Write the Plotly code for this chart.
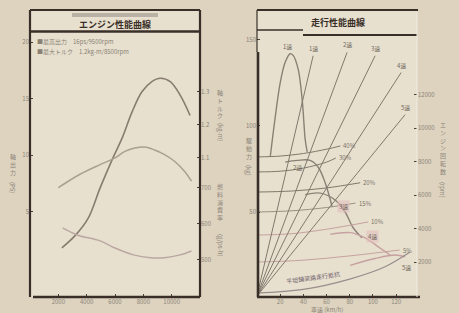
import plotly.graph_objects as go

W, H = 459, 313
def px(x): return x / W
def py(y): return 1 - y / H

# ---------------- Engine performance (left chart) ----------------
rpm_ticks = [2000, 4000, 6000, 8000, 10000]
rpm_ticktext = ["2000", "4000", "6000", "8000", "10000"]
power_ticks = [5, 10, 15, 20]
torque_ticks = [1.1, 1.2, 1.3]
fuel_ticks = [500, 600, 700]

rpm_power = [2250, 3200, 4100, 4950, 5800, 6500, 7200, 7900, 8600, 9200, 9900, 10600, 11300]
power_ps = [1.8, 2.9, 4.4, 7.1, 9.6, 11.5, 13.8, 15.6, 16.5, 16.8, 16.5, 15.3, 13.5]

rpm_torque = [2000, 3500, 4950, 6000, 6700, 7400, 8100, 8800, 9500, 10200, 10900, 11400]
torque_kgm = [1.01, 1.05, 1.08, 1.10, 1.12, 1.13, 1.133, 1.124, 1.11, 1.09, 1.06, 1.03]

rpm_fuel = [2300, 3000, 3500, 4950, 6000, 7300, 8500, 9500, 10600, 11400]
fuel_gpsh = [589, 575, 567, 553, 533, 514, 506, 506, 514, 525]

# ---------------- Running performance (right chart) ----------------
speed_ticks = [20, 40, 60, 80, 100, 120]
force_ticks = [50, 100, 150]
erpm_ticks = [2000, 4000, 6000, 8000, 10000, 12000]
erpm_ticktext = ["2000", "4000", "6000", "8000", "10000", "12000"]

gear_names = ["1速", "2速", "3速", "4速", "5速"]
gear_line_end_kmh = [48.4, 77.7, 101.9, 124.3, 127.8]
gear_line_end_rpm = [14300, 14500, 14300, 13300, 10800]

df1_kmh = [11.4, 15.7, 20.0, 24.3, 28.6, 31.2, 35.5, 39.0, 41.6, 43.3]
df1_kg = [82, 105, 125, 137, 142, 141, 133, 115, 92, 85]
df2_kmh = [24.3, 34.7, 45.9, 52.8, 58.8, 64.8]
df2_kg = [79, 80, 80, 76, 67, 53]
df3_kmh = [41.6, 54.5, 67.4, 76.0, 82.8, 90.5]
df3_kg = [60, 61, 57, 50, 41, 35]
df4_kmh = [63.1, 80.3, 93.2, 106.2, 114.8]
df4_kg = [37, 38, 35, 29, 25]
df5_kmh = [80.3, 101.9, 119.0, 127.8]
df5_kg = [19, 23, 25, 24]

grade_labels = ["40%", "30%", "20%", "15%", "10%", "5%"]
res40_kmh = [0, 20, 40, 60, 72]
res40_kg = [82, 82.5, 84, 86.5, 88.4]
res30_kmh = [0, 20, 40, 60, 68]
res30_kg = [73.3, 73.7, 75.5, 79, 81.4]
res20_kmh = [0, 30, 60, 89]
res20_kg = [61.6, 62.2, 64, 67]
res15_kmh = [0, 30, 60, 85]
res15_kg = [50, 50.7, 52.6, 55.2]
res10_kmh = [0, 30, 60, 96]
res10_kg = [36.6, 37.4, 40, 44.2]
res5_kmh = [0, 40, 80, 123]
res5_kg = [20.9, 22, 24.5, 27.9]
flat_kmh = [0, 40, 80, 110, 132]
flat_kg = [2.9, 5, 11, 18, 26.7]

# ---------------- styles ----------------
FONT = "Noto Sans CJK JP"
DARK = "#3a2f28"
TICKC = "#8d8579"
GREY = "#81786c"
PINK = "#c6a1a0"

fig = go.Figure()

# left chart traces
fig.add_trace(go.Scatter(x=rpm_power, y=power_ps, mode="lines",
                         line=dict(color="#877c6f", width=1.6, shape="spline"),
                         xaxis="x", yaxis="y", hoverinfo="skip"))
fig.add_trace(go.Scatter(x=rpm_torque, y=torque_kgm, mode="lines",
                         line=dict(color="#aa9f90", width=1.5, shape="spline"),
                         xaxis="x", yaxis="y2", hoverinfo="skip"))
fig.add_trace(go.Scatter(x=rpm_fuel, y=fuel_gpsh, mode="lines",
                         line=dict(color="#bba7a2", width=1.5, shape="spline"),
                         xaxis="x", yaxis="y3", hoverinfo="skip"))

# right chart: engine rpm lines per gear
for vend, rend in zip(gear_line_end_kmh, gear_line_end_rpm):
    fig.add_trace(go.Scatter(x=[0, vend], y=[0, rend], mode="lines",
                             line=dict(color=GREY, width=1),
                             xaxis="x2", yaxis="y5", hoverinfo="skip"))

# driving force curves
for xs, ys, col in [(df1_kmh, df1_kg, "#8a8074"), (df2_kmh, df2_kg, "#8a8074"),
                    (df3_kmh, df3_kg, "#8f8378"), (df4_kmh, df4_kg, PINK),
                    (df5_kmh, df5_kg, PINK)]:
    fig.add_trace(go.Scatter(x=xs, y=ys, mode="lines",
                             line=dict(color=col, width=1.4, shape="spline"),
                             xaxis="x2", yaxis="y4", hoverinfo="skip"))

# resistance curves
res_sets = [(res40_kmh, res40_kg), (res30_kmh, res30_kg), (res20_kmh, res20_kg),
            (res15_kmh, res15_kg), (res10_kmh, res10_kg), (res5_kmh, res5_kg)]
res_cols = [GREY, GREY, GREY, "#9c9083", PINK, PINK]
for (xs, ys), col in zip(res_sets, res_cols):
    fig.add_trace(go.Scatter(x=xs, y=ys, mode="lines",
                             line=dict(color=col, width=1, shape="spline"),
                             xaxis="x2", yaxis="y4", hoverinfo="skip"))
fig.add_trace(go.Scatter(x=flat_kmh, y=flat_kg, mode="lines",
                         line=dict(color="#9a8c8c", width=1.2, shape="spline"),
                         xaxis="x2", yaxis="y4", hoverinfo="skip"))

dom_y = [py(297), py(10)]
tickstyle = dict(ticks="inside", ticklen=3, tickwidth=1.3, tickcolor="#4a4038",
                 showgrid=False, zeroline=False, showline=False, fixedrange=True,
                 tickfont=dict(family=FONT, size=6, color=TICKC))

fig.update_layout(
    width=W, height=H, autosize=False, margin=dict(l=0, r=0, t=0, b=0),
    paper_bgcolor="#ddd3bf", plot_bgcolor="#e7e0cf", showlegend=False,
    font=dict(family=FONT, size=6, color=TICKC),
    xaxis=dict(domain=[px(30), px(200)], range=[0, 12000], tickvals=rpm_ticks,
               ticktext=rpm_ticktext, anchor="y", **tickstyle),
    yaxis=dict(domain=dom_y, range=[-2.55, 22.83], tickvals=power_ticks,
               anchor="x", **tickstyle),
    yaxis2=dict(overlaying="y", side="right", anchor="x", range=[0.679, 1.548],
                tickvals=torque_ticks, **tickstyle),
    yaxis3=dict(overlaying="y", side="right", anchor="x", range=[397, 1194.4],
                tickvals=fuel_ticks, **tickstyle),
    xaxis2=dict(domain=[px(257), px(417)], range=[0, 138], tickvals=speed_ticks,
                anchor="y4", **tickstyle),
    yaxis4=dict(domain=dom_y, range=[0.6, 167.4], tickvals=force_ticks,
                anchor="x2", **tickstyle),
    yaxis5=dict(overlaying="y4", side="right", anchor="x2", range=[-60, 17024],
                tickvals=erpm_ticks, ticktext=erpm_ticktext, **tickstyle),
)

# ---------------- frames (paper shapes) ----------------
def seg(x0, y0, x1, y1, w=2, c=DARK):
    fig.add_shape(type="line", xref="paper", yref="paper",
                  x0=px(x0), y0=py(y0), x1=px(x1), y1=py(y1),
                  line=dict(color=c, width=w))

# left frame
seg(30, 10, 200, 10, 2)
seg(30, 10, 30, 297, 2.2)
seg(200, 10, 200, 297, 2.2)
seg(33, 297, 200, 297, 2.6)
seg(30, 31.5, 200, 31.5, 2.4)
fig.add_shape(type="rect", xref="paper", yref="paper", x0=px(72), x1=px(158),
              y0=py(17), y1=py(13), line=dict(width=0), fillcolor="#b9b1a5")
# right frame
seg(257, 10, 418, 10, 2)
seg(257, 10, 257, 52, 1.2)
seg(257, 30, 303, 30, 1.3)
seg(303, 35, 417, 35, 2.2)
seg(258, 52, 258, 297, 2.6)
seg(257, 297, 420, 297, 2.6)
seg(417, 12, 417, 297, 1, "#f1ece2")

# ---------------- text ----------------
def ann(text, x, y, size=6, color=TICKC, xa="center", ya="middle", angle=0, bold=False, bg=None):
    fig.add_annotation(text=f"<b>{text}</b>" if bold else text, x=px(x), y=py(y),
                       xref="paper", yref="paper", showarrow=False,
                       xanchor=xa, yanchor=ya, textangle=angle,
                       font=dict(family=FONT, size=size, color=color),
                       bgcolor=bg, borderpad=0)

def vtext(s, x, ytop, size=6, color=TICKC):
    fig.add_annotation(text="<br>".join(list(s)), x=px(x), y=py(ytop),
                       xref="paper", yref="paper", showarrow=False,
                       xanchor="center", yanchor="top",
                       font=dict(family=FONT, size=size, color=color))

ann("エンジン性能曲線", 115, 24, size=9, color=DARK, bold=True)
ann("走行性能曲線", 338, 23, size=9, color=DARK, bold=True)

ann("■最高出力　16ps/9500rpm", 36, 41, size=6, color="#8a8074", xa="left")
ann("■最大トルク　1.2kg-m/8500rpm", 36, 51, size=6, color="#8a8074", xa="left")

vtext("軸出力", 13, 150)
ann("(PS)", 13, 187, angle=90)
vtext("軸トルク", 220, 86)
ann("(kg-m)", 220, 132, angle=90)
vtext("燃料消費率", 220, 180)
ann("(g/ps-h)", 220, 245, angle=90)

vtext("駆動力", 249, 134)
ann("(kg)", 249, 171, angle=90)
vtext("エンジン回転数", 443, 118)
ann("(rpm)", 443, 190, angle=90)
ann("車速 (km/h)", 327, 309, size=6)

# gear labels on rpm lines
for name, vend, rend in zip(gear_names, gear_line_end_kmh, gear_line_end_rpm):
    fig.add_annotation(text=name, x=vend, y=rend, xref="x2", yref="y5",
                       showarrow=False, yanchor="bottom", xanchor="center", yshift=1,
                       font=dict(family=FONT, size=6, color="#6f665b"))

# gear labels on driving force curves
df_label_pos = [(26, 146), (35, 76), (75, 53), (100, 36), (129, 18)]
for name, (vx, fy) in zip(gear_names, df_label_pos):
    fig.add_annotation(text=name, x=vx, y=fy, xref="x2", yref="y4", showarrow=False,
                       font=dict(family=FONT, size=6, color="#6f665b"),
                       bgcolor="rgba(226,190,190,0.6)" if name in ("3速", "4速") else None)

# grade labels at end of resistance curves
for lab, (xs, ys) in zip(grade_labels, res_sets):
    fig.add_annotation(text=lab, x=xs[-1], y=ys[-1], xref="x2", yref="y4",
                       showarrow=False, xanchor="left", xshift=1,
                       font=dict(family=FONT, size=6, color="#7c7368"))
ann("平坦舗装路走行抵抗", 313, 277, size=6, color="#6f5f6a", angle=-8)

fig.write_html("out.html", config={"displayModeBar": False},
               post_script="document.body.style.margin='0';document.body.style.overflow='hidden';")
